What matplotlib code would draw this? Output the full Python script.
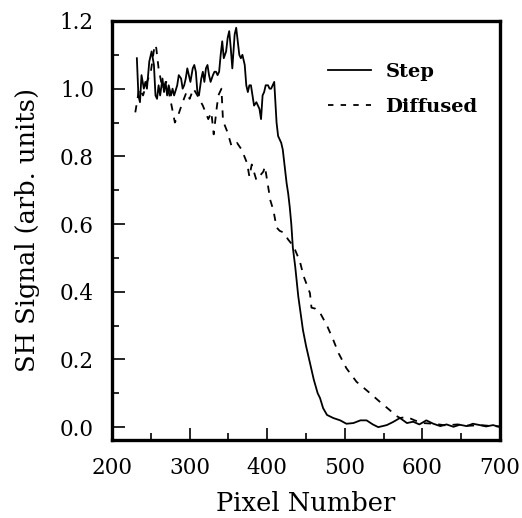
import numpy as np
import matplotlib
matplotlib.use("Agg")
from matplotlib import pyplot as plt

# Step (solid) curve
step_x = [232, 234, 236, 238, 241, 243, 245, 248, 251, 254, 256, 258, 260, 262, 265, 267,
          269, 271, 273, 276, 278, 280, 284, 286, 289, 291, 293, 295, 297, 299, 301, 304,
          306, 308, 310, 312, 315, 317, 319, 321, 323, 325, 327, 330, 332, 334, 336, 338,
          340, 342, 344, 347, 349, 351, 353, 355, 358, 360, 362, 364, 366, 368, 371, 373,
          375, 377, 379, 381, 383, 386, 388, 390, 392, 394, 396, 398, 401, 403, 405, 407,
          409, 412, 414, 416, 418, 420, 422, 425, 427, 429, 431, 433, 436, 440, 446, 450,
          455, 460, 465, 468, 472, 477, 485, 494, 502, 511, 520, 528, 536, 543, 554, 562,
          571, 580, 588, 596, 605, 614, 623, 631, 640, 648, 657, 665, 674, 682, 691, 700]
step_y = [1.09, 0.98, 0.96, 1.04, 1.00, 1.02, 1.00, 1.08, 1.11, 1.07, 0.98, 0.97, 1.01, 0.98,
          1.03, 0.99, 1.02, 0.98, 1.01, 0.98, 1.00, 0.98, 1.01, 1.04, 1.03, 1.00, 1.01, 1.03,
          1.06, 1.04, 1.02, 1.06, 1.07, 1.05, 0.99, 0.98, 1.03, 1.05, 1.02, 1.06, 1.07, 1.04,
          1.02, 1.04, 1.05, 1.05, 1.04, 1.05, 1.10, 1.14, 1.09, 1.11, 1.15, 1.17, 1.12, 1.06,
          1.16, 1.18, 1.14, 1.10, 1.09, 1.10, 1.07, 1.01, 0.99, 1.01, 1.01, 0.98, 0.95, 0.96,
          0.95, 0.94, 0.91, 0.98, 0.99, 1.01, 1.01, 1.00, 1.00, 1.01, 1.02, 0.90, 0.86, 0.85,
          0.84, 0.82, 0.78, 0.72, 0.69, 0.65, 0.60, 0.53, 0.475, 0.386, 0.287, 0.24,
          0.19, 0.14, 0.10, 0.086, 0.056, 0.036, 0.027, 0.02, 0.01, 0.012, 0.02, 0.02,
          0.008, 0.0, 0.006, 0.015, 0.027, 0.012, 0.016, 0.008, 0.02, 0.01, 0.003, 0.008,
          0.001, 0.007, 0.003, 0.01, 0.006, 0.002, 0.006, 0.0]

# Diffused (dashed) curve
diff_x = [230, 235, 240, 245, 250, 255, 257, 260, 265, 270, 275, 281, 285, 291, 296, 300,
          305, 310, 317, 324, 328, 331, 335, 337, 341, 343, 349, 354, 361, 367, 374, 377,
          380, 386, 395, 397, 400, 404, 408, 412, 416, 421, 427, 434, 442, 447, 455, 457,
          462, 468, 477, 485, 492, 502, 515, 530, 545, 558, 565, 571, 580, 590, 600, 615,
          630, 645, 660, 675, 690, 700]
diff_y = [0.93, 1.00, 0.98, 1.02, 1.05, 1.13, 1.12, 1.06, 1.00, 1.02, 0.97, 0.90, 0.92,
          0.96, 0.99, 0.97, 1.00, 0.98, 0.95, 0.91, 0.93, 0.865, 0.945, 0.98, 1.00, 0.905,
          0.87, 0.83, 0.84, 0.82, 0.78, 0.74, 0.776, 0.73, 0.755, 0.77, 0.727, 0.67, 0.64,
          0.59, 0.58, 0.575, 0.554, 0.534, 0.49, 0.445, 0.396, 0.353, 0.35, 0.338, 0.30,
          0.258, 0.218, 0.174, 0.134, 0.105, 0.075, 0.05, 0.035, 0.027, 0.03, 0.02, 0.012,
          0.01, 0.005, 0.008, 0.004, 0.006, 0.003, 0.002]

plt.rcParams['font.family'] = ['DejaVu Serif']

fig = plt.figure(figsize=(5.22, 5.18), dpi=100)
ax = fig.add_axes([0.2146, 0.1506, 0.7434, 0.8089])

ax.plot(step_x, step_y, color='black', lw=1.3, label='Step')
ax.plot(diff_x, diff_y, color='black', lw=1.3, linestyle=(0, (4, 4)), label='Diffused')

ax.set_xlim(200, 700)
ax.set_ylim(-0.038, 1.2)
ax.set_xticks([200, 300, 400, 500, 600, 700])
ax.set_xticks(np.arange(250, 700, 100), minor=True)
ax.set_yticks([0.0, 0.2, 0.4, 0.6, 0.8, 1.0, 1.2])
ax.set_yticks(np.arange(0.1, 1.2, 0.2), minor=True)
ax.set_yticklabels(['0.0', '0.2', '0.4', '0.6', '0.8', '1.0', '1.2'])

ax.tick_params(which='major', direction='in', length=9, width=1.2, labelsize=15.5)
ax.tick_params(which='minor', direction='in', length=5, width=1.2)
ax.tick_params(axis='y', which='major', pad=13)
ax.tick_params(axis='x', which='major', pad=12)
for s in ax.spines.values():
    s.set_linewidth(2.4)

ax.set_xlabel('Pixel Number', fontsize=18.5, labelpad=9)
ax.set_ylabel('SH Signal (arb. units)', fontsize=18.5, labelpad=14)

leg = ax.legend(loc='upper left', frameon=False, fontsize=14, handlelength=2.2,
                handletextpad=0.75, labelspacing=0.87, borderpad=0, borderaxespad=0,
                bbox_to_anchor=(0.557, 0.90))
for t in leg.get_texts():
    t.set_fontweight('bold')
leg.get_lines()[1].set_linestyle((0, (3, 4)))

fig.savefig('out.png', dpi=100)
